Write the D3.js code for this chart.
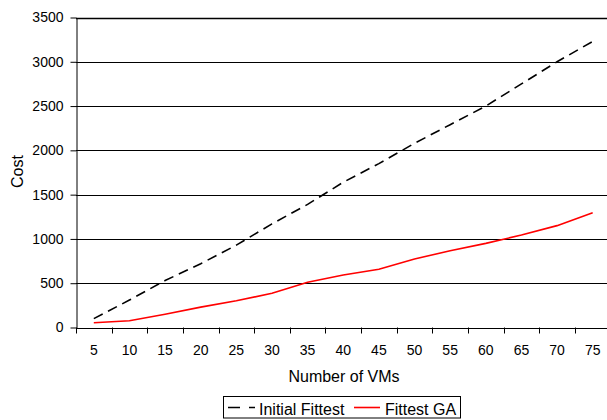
<!DOCTYPE html>
<html><head><meta charset="utf-8">
<script src="https://cdn.jsdelivr.net/npm/d3@7"></script>
<style>body{margin:0;background:#fff}svg{display:block}text{font-family:"Liberation Sans",Arial,sans-serif;fill:#000}</style>
</head><body>
<script>
const categories = [5,10,15,20,25,30,35,40,45,50,55,60,65,70,75];
const initialFittest = [100,310,530,720,930,1170,1390,1640,1850,2080,2290,2500,2750,3000,3230];
const fittestGA = [54,77,150,230,302,386,510,593,657,773,867,950,1044,1150,1296];
const yTicks = [0,500,1000,1500,2000,2500,3000,3500];
const seriesNames = ["Initial Fittest","Fittest GA"];

(function(){
const W=607,H=420;
const svg=d3.select("body").append("svg").attr("width",W).attr("height",H);
const mLeft=76, mRight=610.5, mTop=17.5, mBottom=327.5;
const x=d3.scaleBand().domain(categories).range([mLeft,mRight]);
const y=d3.scaleLinear().domain([0,3500]).range([mBottom,mTop]);
const FF="Liberation Sans, Arial, sans-serif";

// gridlines
svg.append("g").selectAll("line").data(yTicks.slice(1)).join("line")
  .attr("x1",mLeft).attr("x2",W).attr("y1",d=>Math.round(y(d))+0.5).attr("y2",d=>Math.round(y(d))+0.5)
  .attr("stroke","#000").attr("stroke-width",d=>d===3500?1.6:1);

// y axis
const ya=svg.append("g").attr("transform",`translate(${mLeft+0.5},0)`)
  .call(d3.axisLeft(y).tickValues(yTicks).tickSize(6).tickSizeOuter(0).tickFormat(d3.format("d")));
ya.select(".domain").attr("stroke","#000");
ya.selectAll(".tick line").attr("stroke","#000");
ya.selectAll(".tick text").attr("font-size",14).attr("font-family",FF).attr("x",-13);

// x axis
const xa=svg.append("g").attr("transform",`translate(0,${mBottom+0.5})`)
  .call(d3.axisBottom(x).tickSize(0).tickSizeOuter(0));
xa.select(".domain").attr("stroke","#000");
xa.selectAll(".tick text").attr("font-size",14).attr("font-family",FF).attr("y",0).attr("dy",27);
// tick marks between categories
const bounds=categories.map((c,i)=>mLeft+i*x.step()).concat([mLeft+categories.length*x.step()]);
svg.append("g").selectAll("line").data(bounds).join("line")
  .attr("x1",d=>Math.round(d)+0.5).attr("x2",d=>Math.round(d)+0.5)
  .attr("y1",mBottom).attr("y2",mBottom+6).attr("stroke","#000");

const line=d3.line().x((d,i)=>x(categories[i])+x.bandwidth()/2).y(d=>y(d));
svg.append("path").datum(initialFittest).attr("d",line).attr("fill","none")
  .attr("stroke","#000").attr("stroke-width",1.6).attr("stroke-dasharray","10,6");
svg.append("path").datum(fittestGA).attr("d",line).attr("fill","none")
  .attr("stroke","#ff0000").attr("stroke-width",1.6);

// axis titles
svg.append("text").attr("x",344).attr("y",381.5).attr("text-anchor","middle").attr("font-size",16).text("Number of VMs");
svg.append("text").attr("transform","translate(22.5,171.5) rotate(-90)").attr("text-anchor","middle").attr("font-size",16).text("Cost");

// legend
const lg=svg.append("g");
lg.append("rect").attr("x",223.5).attr("y",396.5).attr("width",237).attr("height",21.5).attr("fill","#fff").attr("stroke","#000");
lg.append("line").attr("x1",228).attr("x2",255).attr("y1",407.5).attr("y2",407.5).attr("stroke","#000").attr("stroke-width",1.6).attr("stroke-dasharray","12,9");
lg.append("text").attr("x",259).attr("y",414.5).attr("font-size",16).text(seriesNames[0]);
lg.append("line").attr("x1",354).attr("x2",380).attr("y1",407.5).attr("y2",407.5).attr("stroke","#ff0000").attr("stroke-width",1.6);
lg.append("text").attr("x",385).attr("y",414.5).attr("font-size",16).text(seriesNames[1]);
})();
</script>
</body></html>
